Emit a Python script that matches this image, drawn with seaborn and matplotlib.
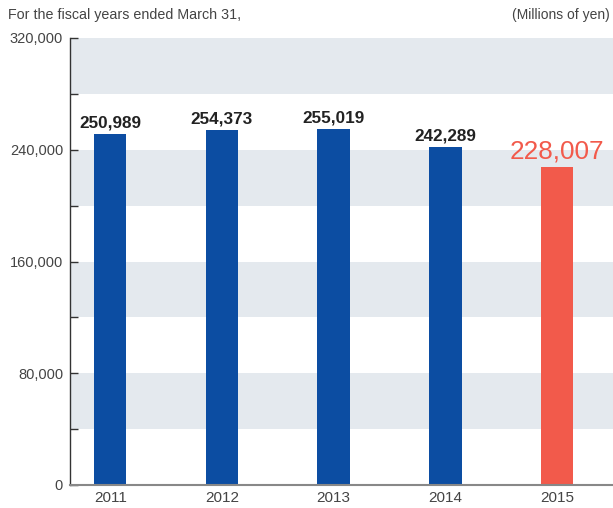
import matplotlib
matplotlib.use("Agg")
import matplotlib.pyplot as plt
import seaborn as sns
import pandas as pd

# Data
years = ["2011", "2012", "2013", "2014", "2015"]
values = [250989, 254373, 255019, 242289, 228007]
y_ticks = [0, 80000, 160000, 240000, 320000]

blue = "#0c4da2"
red = "#f25a4b"
band = "#e4e9ee"

sns.set_style("white")
plt.rcParams["font.family"] = ["Liberation Sans", "DejaVu Sans"]

df = pd.DataFrame({"year": years, "value": values})
colors = [blue] * (len(years) - 1) + [red]

fig = plt.figure(figsize=(6.13, 5.08), dpi=100)
ax = fig.add_axes([70 / 613, 1 - 485 / 508, 1 - 70 / 613, (485 - 38) / 508])

# alternating gray bands
for lo in range(40000, 320000, 80000):
    ax.axhspan(lo, lo + 40000, color=band, zorder=0, lw=0)

sns.barplot(data=df, x="year", y="value", hue="year", palette=colors,
            legend=False, width=0.29, saturation=1, linewidth=0,
            ax=ax, zorder=2)

ax.set_ylim(0, 320000)
ax.set_xlim(-0.36, 4.5)
ax.set_yticks(y_ticks)
ax.set_yticklabels([f"{v:,}" for v in y_ticks], fontsize=10.5, color="#444444")
ax.set_yticks(range(40000, 320000, 80000), minor=True)
ax.tick_params(axis="y", which="both", direction="in", length=6, width=1,
               color="#333333", left=True, pad=5)
ax.tick_params(axis="x", length=0, labelsize=11, labelcolor="#444444", pad=4)
ax.set_xlabel("")
ax.set_ylabel("")

for s in ["top", "right"]:
    ax.spines[s].set_visible(False)
ax.spines["left"].set_color("#333333")
ax.spines["left"].set_linewidth(1)
ax.spines["bottom"].set_color("#888888")
ax.spines["bottom"].set_linewidth(1.5)

for i, v in enumerate(values):
    if i == len(values) - 1:
        ax.text(i, v + 2500, f"{v:,}", ha="center", va="bottom",
                fontsize=18.8, color=red)
    else:
        ax.text(i, v + 2500, f"{v:,}", ha="center", va="bottom",
                fontsize=12.3, fontweight="bold", color="#222222")

fig.text(8 / 613, 1 - 15 / 508, "For the fiscal years ended March 31,",
         ha="left", va="center", fontsize=10.3, color="#444444")
fig.text(610 / 613, 1 - 15 / 508, "(Millions of yen)",
         ha="right", va="center", fontsize=10, color="#444444")

fig.savefig("out.png", dpi=100)
